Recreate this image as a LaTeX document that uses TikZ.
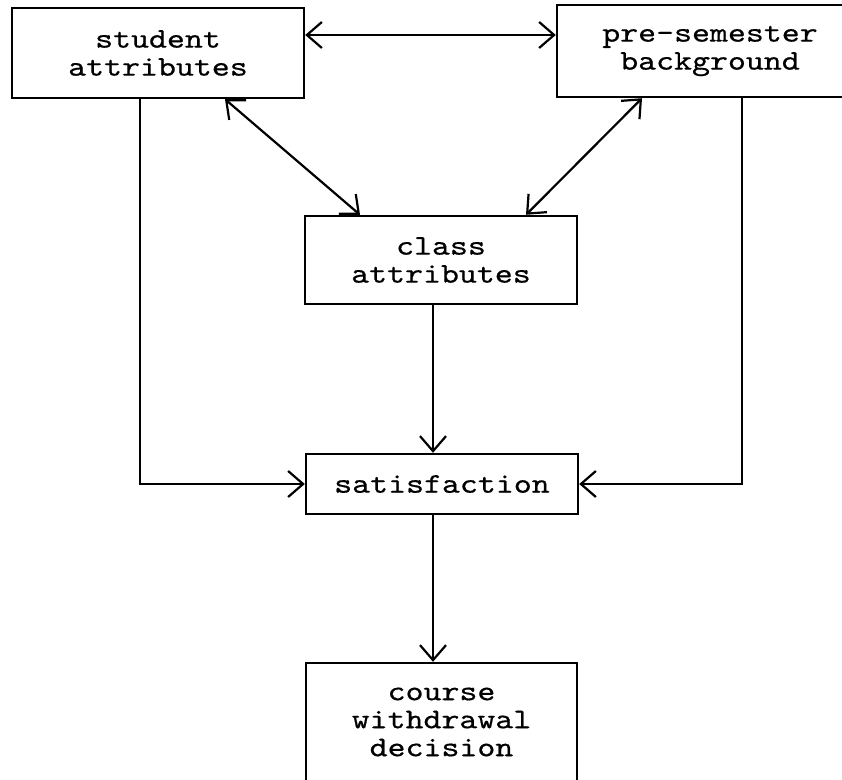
\documentclass[tikz,border=0pt]{standalone}
\usepackage{fontspec}
\setmonofont{lmmono10-regular.otf}[FakeStretch=1.2,FakeBold=0.5]
\usepackage{tikz}
\usetikzlibrary{arrows.meta}

\tikzset{
    box/.style={draw, line width=2.4pt, align=center, inner sep=0pt,
        font=\ttfamily\fontsize{28.5}{28}\selectfont},
    link/.style={line width=2.2pt, -{Straight Barb[length=15pt,width=26pt,line width=2.2pt]}},
    dlink/.style={line width=2.2pt, {Straight Barb[length=15pt,width=26pt,line width=2.2pt]}-{Straight Barb[length=15pt,width=26pt,line width=2.2pt]}}
}

\begin{document}
\begin{tikzpicture}[x=1pt,y=-1pt]
                \useasboundingbox (0,0) rectangle (842,779);
                \node[box, minimum width=292pt, minimum height=90pt] (student) at (158,53) {student\\attributes};
                \node[box, minimum width=306pt, minimum height=92pt] (pre) at (710,51) {pre-semester\\background};
                \node[box, minimum width=272pt, minimum height=88pt] (class) at (441,260) {class\\attributes};
                \node[box, minimum width=272pt, minimum height=60pt] (sat) at (442,484) {satisfaction};
                \node[box, minimum width=271pt, minimum height=118pt] (course) at (441.5,722) {course\\withdrawal\\decision};

                \draw[dlink] ([yshift=18pt]student.east) -- ([yshift=18pt]student.east -| pre.west);
                \draw[dlink] ([xshift=67pt]student.south) -- ([xshift=-81pt]class.north);
                \draw[dlink] ([xshift=-68pt]pre.south) -- ([xshift=85pt]class.north);

                \draw[link] ([xshift=-18pt]student.south) |- (sat.west);
                \draw[link] ([xshift=32pt]pre.south) |- (sat.east);
                \draw[link] ([xshift=-8pt]class.south) -- ([xshift=-8pt]class.south |- sat.north);
                \draw[link] ([xshift=-9pt]sat.south) -- ([xshift=-9pt]sat.south |- course.north);
\end{tikzpicture}
\end{document}
